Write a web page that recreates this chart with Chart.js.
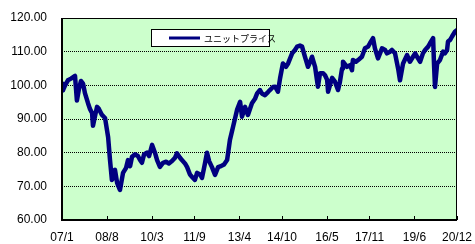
<!DOCTYPE html>
<html>
<head>
<meta charset="utf-8">
<script src="https://cdn.jsdelivr.net/npm/chart.js@4/dist/chart.umd.min.js"></script>
<style>
  html, body { margin: 0; padding: 0; background: #ffffff; }
  #wrap { width: 475px; height: 244px; position: relative; }
</style>
</head>
<body>
<div id="wrap"><canvas id="c" width="475" height="244"></canvas></div>
<script>
// Month index since Jan 2007
const months = [0,0.4,1.3,2.5,3.8,5.5,6.3,7.2,8.0,8.9,9.7,11.0,11.8,12.7,13.1,14.0,14.8,15.6,16.9,18.2,
  19.5,20.3,21.1,22.0,22.4,23.3,24.5,25.8,27.1,27.9,28.8,29.6,30.9,32.1,33.0,33.8,34.7,35.9,36.8,38.1,
  39.3,40.2,41.4,42.7,44.0,45.2,46.5,47.8,48.6,49.9,50.7,52.0,52.9,54.1,55.0,56.2,57.1,58.4,59.2,60.5,
  61.3,62.2,63.4,64.7,66.0,67.2,68.5,69.8,71.0,72.3,74.0,75.3,76.1,77.4,78.6,80.3,81.6,82.5,83.7,84.6,
  85.8,87.1,87.9,89.2,90.1,91.3,92.2,93.4,94.7,95.6,97.3,98.5,99.4,100.6,101.5,102.7,104.0,104.9,105.7,107.0,
  108.2,109.1,110.4,111.2,112.1,112.5,114.2,115.4,116.7,117.5,118.4,118.8,120.5,121.8,122.6,123.0,124.3,125.2,126.8,128.1,
  129.4,130.2,131.5,132.3,133.6,135.3,136.6,137.4,138.7,139.5,140.8,142.1,142.9,144.2,145.9,147.1,148.4,149.3,150.5,151.4,
  152.6,153.5,154.8,155.6,156.9,157.3,157.7,158.6,159.8,161.1,161.9,162.8,163.2,164.1,164.9,166.2,167.0];

const unitPrice = [100.5,98.5,100,101.5,102,102.8,95.5,99,101.3,100.5,97.7,94.7,93,91.8,88,91,93.6,93,91.2,90.3,
  84.6,77.8,71.9,73,74.9,71,68.9,74,75.5,77.8,76,78.8,79.5,79,77.8,77,79.5,80,79,82.3,
  80,77.8,75.8,77,77.3,76.8,77.5,78.5,79.8,78.5,77.8,76.8,75.7,73.5,72.8,71.9,74,73.5,72.5,77,
  80,77.5,75.7,73.4,75.7,76,76.5,77.8,83.8,87.6,92.7,95.1,90.7,93.6,91.2,94.7,96,97.6,98.6,97.5,
  97.1,98,98.6,99.5,99.6,98.1,102.1,106.5,105.5,106.5,109.5,110.5,111.5,111.8,111.5,108.5,105.5,107,108.5,105.5,
  99.6,103.6,103.6,103,101.6,98.1,102.2,101.1,98.6,101,105,107,105.5,106,104.5,107.5,107,107.5,108.5,111,
  111.5,112.5,114,111,108,111,110.5,109.5,110,110.5,109.5,105,101.5,106.5,109,107,108.5,109.5,108,107,
  109.5,110.5,111.5,112.5,114,106,99.5,106.5,107.5,110,109.5,110.5,113,113.5,114.5,116,116.4];

// Tick labels (yy/m) and their month index
const tickLabels = ['07/1','08/8','10/3','11/9','13/4','14/10','16/5','17/11','19/6','20/12'];
const tickMonths = [0,19,38,56,75,93,112,130,149,167];
const seriesName = 'ユニットプライス';

const points = months.map((m, i) => ({ x: m, y: unitPrice[i] }));

const framePlugin = {
  id: 'frame',
  beforeDraw(chart) {
    const { ctx, chartArea: a } = chart;
    ctx.save();
    ctx.fillStyle = '#CCFFCC';
    ctx.fillRect(a.left, a.top, a.right - a.left, a.bottom - a.top);
    ctx.restore();
  },
  afterDatasetsDraw(chart) {
    const { ctx, chartArea: a, scales } = chart;
    ctx.save();
    ctx.strokeStyle = '#000';
    ctx.lineWidth = 1;
    ctx.strokeRect(a.left + 0.5, a.top + 0.5, a.right - a.left - 1, a.bottom - a.top - 1);
    ctx.lineWidth = 2;
    ctx.beginPath();
    ctx.moveTo(a.left, a.top);
    ctx.lineTo(a.left, a.bottom);
    ctx.lineTo(a.right, a.bottom);
    ctx.stroke();
    ctx.lineWidth = 1;
    ctx.beginPath();
    tickMonths.forEach(m => {
      const x = Math.round(scales.x.getPixelForValue(m)) + 0.5;
      ctx.moveTo(x, a.bottom);
      ctx.lineTo(x, a.bottom - 4);
    });
    ctx.stroke();
    const bx = a.left + 89, by = a.top + 11, bw = 118, bh = 17;
    ctx.fillStyle = '#fff';
    ctx.fillRect(bx, by, bw, bh);
    ctx.strokeStyle = '#000';
    ctx.lineWidth = 1;
    ctx.strokeRect(bx + 0.5, by + 0.5, bw, bh);
    ctx.strokeStyle = '#000080';
    ctx.lineWidth = 3;
    ctx.beginPath();
    ctx.moveTo(bx + 18, by + 9);
    ctx.lineTo(bx + 49, by + 9);
    ctx.stroke();
    ctx.fillStyle = '#000';
    ctx.font = '9px "Noto Sans CJK JP"';
    ctx.textBaseline = 'middle';
    ctx.fillText(chart.data.datasets[0].label, bx + 53, by + 9.5);
    ctx.restore();
  }
};

new Chart(document.getElementById('c'), {
  type: 'line',
  data: {
    datasets: [{
      label: seriesName,
      data: points,
      borderColor: '#000080',
      borderWidth: 4.5,
      pointRadius: 0,
      tension: 0,
      borderJoinStyle: 'round',
      borderCapStyle: 'round'
    }]
  },
  options: {
    responsive: false,
    animation: false,
    layout: { padding: { top: 18, right: 18, left: 0, bottom: 0 } },
    plugins: { legend: { display: false }, tooltip: { enabled: false } },
    scales: {
      x: {
        type: 'linear',
        min: 0,
        max: 167,
        afterBuildTicks(scale) { scale.ticks = tickMonths.map(v => ({ value: v })); },
        afterFit(scale) { scale.height = 24; scale.paddingLeft = 0; scale.paddingRight = 0; },
        ticks: {
          autoSkip: false,
          maxRotation: 0,
          padding: 10,
          color: '#000',
          font: { family: '"Liberation Sans", Arial, sans-serif', size: 12 },
          callback(v) { const i = tickMonths.indexOf(v); return i >= 0 ? tickLabels[i] : ''; }
        },
        grid: { display: false, drawTicks: false },
        border: { display: false }
      },
      y: {
        min: 60,
        max: 120,
        afterFit(scale) { scale.width = 62; scale.paddingTop = 0; scale.paddingBottom = 0; },
        ticks: {
          stepSize: 10,
          padding: 15,
          color: '#000',
          font: { family: '"Liberation Sans", Arial, sans-serif', size: 12 },
          callback(v) { return v.toFixed(2); }
        },
        grid: {
          drawTicks: false,
          color: ctx => (ctx.tick && (ctx.tick.value === 60 || ctx.tick.value === 120)) ? 'rgba(0,0,0,0)' : '#000',
          lineWidth: 1
        },
        border: { display: false, dash: [1, 1] }
      }
    }
  },
  plugins: [framePlugin]
});
</script>
</body>
</html>
